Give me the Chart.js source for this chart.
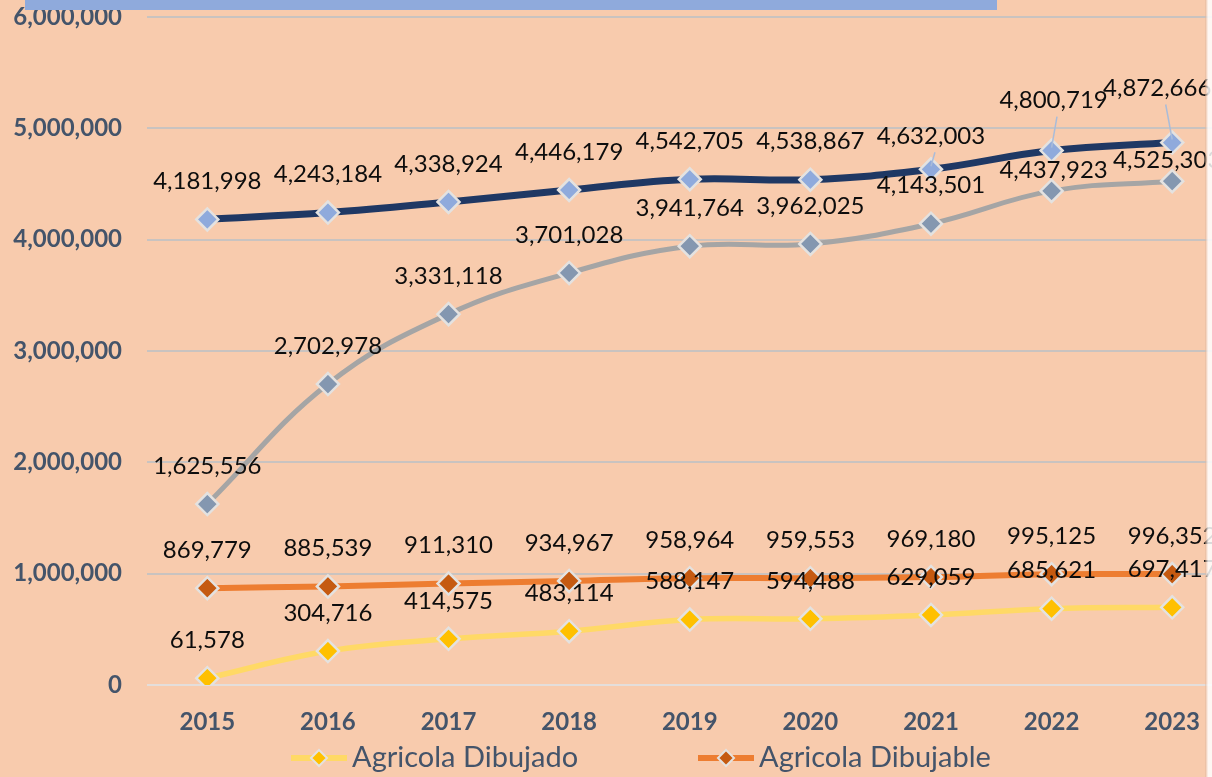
<!DOCTYPE html>
<html>
<head>
<meta charset="utf-8">
<title>Agricola</title>
<script src="https://cdn.jsdelivr.net/npm/chart.js@4.4.1/dist/chart.umd.min.js"></script>
<style>
    html,body{margin:0;padding:0;overflow:hidden;background:#f8cbad;}
    #wrap{position:relative;width:1212px;height:777px;overflow:hidden;}
    #myChart{position:absolute;left:0;top:0;}
    .title-bar{position:absolute;left:25px;top:0;width:972px;height:10px;background:#8faadc;}
    .edge{position:absolute;left:1205px;top:0;width:7px;height:777px;
        background:linear-gradient(to right,rgba(214,160,125,0.45),rgba(255,255,255,0.85) 45%);}
</style>
</head>
<body>
<div id="wrap">
    <canvas id="myChart" width="1246" height="777"></canvas>
    <div class="title-bar"></div>
    <div class="edge"></div>
</div>
<script>
// years and series
const years = ["2015","2016","2017","2018","2019","2020","2021","2022","2023"];
const agricolaDibujado  = [61578, 304716, 414575, 483114, 588147, 594488, 629059, 685621, 697417];
const agricolaDibujable = [869779, 885539, 911310, 934967, 958964, 959553, 969180, 995125, 996352];
const totalDibujable    = [4181998, 4243184, 4338924, 4446179, 4542705, 4538867, 4632003, 4800719, 4872666];
const totalDibujado     = [1625556, 2702978, 3331118, 3701028, 3941764, 3962025, 4143501, 4437923, 4525303];
const yTicks = [0, 1000000, 2000000, 3000000, 4000000, 5000000, 6000000];

const fmt = (v)=> v.toLocaleString('en-US');

// label nudges: dataset index -> point index -> shift (default is straight above)
const labelNudge = {
    2:{6:{dx:0,dy:-33,leader:true},7:{dx:2,dy:-50,leader:true},8:{dx:-15,dy:-54,leader:true}},
    3:{7:{dx:2,dy:-21},8:{dx:-5,dy:-21}}
};

const pointLabels = {
    id:'pointLabels',
    afterDatasetsDraw(chart){
        const ctx = chart.ctx;
        ctx.save();
        ctx.font = '24px Lato';
        ctx.textAlign = 'center';
        ctx.textBaseline = 'middle';
        chart.data.datasets.forEach((ds,i)=>{
            const meta = chart.getDatasetMeta(i);
            meta.data.forEach((pt,j)=>{
                const n = (labelNudge[i] || {})[j] || {dx:0,dy:-38};
                const tx = pt.x + n.dx, ty = pt.y + n.dy;
                if(n.leader){
                    ctx.strokeStyle = '#a9bcd9';
                    ctx.lineWidth = 1.5;
                    ctx.beginPath();
                    ctx.moveTo(tx + (pt.x - tx)*0.3 + 4, ty + 16);
                    ctx.lineTo(pt.x, pt.y - 3);
                    ctx.stroke();
                }
                ctx.fillStyle = '#0d0d0d';
                ctx.fillText(fmt(ds.data[j]), tx, ty);
            });
        });
        ctx.restore();
    }
};

// legend drawn as line + diamond + text, two per row
const lineLegend = {
    id:'lineLegend',
    afterDraw(chart){
        const ctx = chart.ctx;
        ctx.save();
        ctx.font = '29px Lato';
        ctx.textBaseline = 'middle';
        ctx.textAlign = 'left';
        chart.data.datasets.forEach((ds,i)=>{
            const x0 = 291 + (i % 2)*407;
            const y = 758 + Math.floor(i/2)*38;
            ctx.strokeStyle = ds.borderColor;
            ctx.lineWidth = 6;
            ctx.beginPath();
            ctx.moveTo(x0, y);
            ctx.lineTo(x0 + 56, y);
            ctx.stroke();
            const cx = x0 + 28, r = 8;
            ctx.beginPath();
            ctx.moveTo(cx, y - r); ctx.lineTo(cx + r, y); ctx.lineTo(cx, y + r); ctx.lineTo(cx - r, y);
            ctx.closePath();
            ctx.fillStyle = ds.pointBackgroundColor;
            ctx.fill();
            ctx.strokeStyle = '#e4e2e0';
            ctx.lineWidth = 2;
            ctx.stroke();
            ctx.fillStyle = '#44546a';
            ctx.fillText(ds.label, x0 + 61, y);
        });
        ctx.restore();
    }
};

const series = (label, data, line, marker, width)=>({
    label:label,
    data:data,
    borderColor:line,
    borderWidth:width,
    pointBackgroundColor:marker,
    pointBorderColor:'#e4e2e0',
    pointBorderWidth:2.5,
    pointStyle:'rectRot',
    pointRadius:11,
    tension:0.4,
    fill:false
});

var ctx = document.getElementById('myChart');
const myChart = new Chart(ctx,{
    type:'line',
    data:{
        labels:years,
        datasets:[
            series("Agricola Dibujado", agricolaDibujado, "#ffd966", "#ffc000", 5.5),
            series("Agricola Dibujable", agricolaDibujable, "#ed7d31", "#c55a11", 6),
            series("Total Dibujable", totalDibujable, "#1f3864", "#8faadc", 7),
            series("Total Dibujado", totalDibujado, "#a5a5a5", "#8497b0", 5)
        ]
    },
    options:{
        responsive:false,
        devicePixelRatio:1,
        animation:false,
        layout:{
            padding:{top:17,left:0,right:0,bottom:0}
        },
        plugins:{
            legend:{display:false},
            tooltip:{enabled:false}
        },
        scales:{
            x:{
                offset:true,
                grid:{display:false},
                border:{display:false},
                ticks:{
                    color:'#44546a',
                    font:{family:'Lato',size:24,weight:'bold'},
                    padding:15,
                    maxRotation:0
                },
                afterFit(scale){
                    scale.height = 92;
                    scale.paddingLeft = 0;
                    scale.paddingRight = 0;
                }
            },
            y:{
                min:0,
                max:6000000,
                afterBuildTicks(scale){ scale.ticks = yTicks.map(v=>({value:v})); },
                grid:{
                    drawTicks:false,
                    lineWidth:2,
                    color:(c)=> c.tick && c.tick.value === 0 ? '#e4dedb' : '#c9c3c0'
                },
                border:{display:false},
                ticks:{
                    color:'#44546a',
                    font:{family:'Lato',size:24,weight:'bold'},
                    padding:25,
                    callback:(v)=> fmt(v)
                },
                afterFit(scale){
                    scale.width = 147;
                    scale.paddingTop = 0;
                    scale.paddingBottom = 0;
                }
            }
        }
    },
    plugins:[pointLabels, lineLegend]
});
</script>
</body>
</html>
